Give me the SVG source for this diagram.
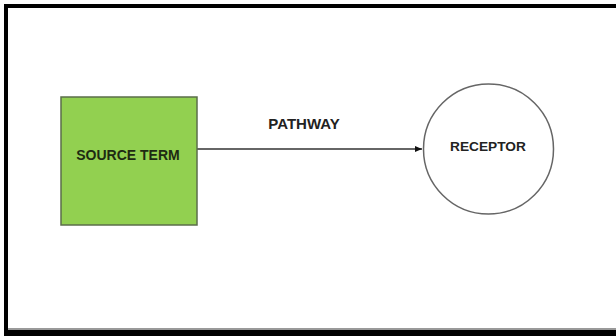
<svg xmlns="http://www.w3.org/2000/svg" width="616" height="336" viewBox="0 0 616 336">
<style>
.lbl{font-family:"Liberation Sans",Arial,sans-serif;font-weight:bold;text-anchor:middle;}
</style>
<defs>
<marker id="arr" markerWidth="8" markerHeight="8" refX="7" refY="4" orient="auto" markerUnits="userSpaceOnUse">
<path d="M0,1 L7,4 L0,7 Z" fill="#111"/>
</marker>
</defs>
<rect x="0" y="0" width="616" height="336" fill="#fff"/>
<g id="frame">
<rect x="4" y="4" width="620" height="4" fill="#000"/>
<rect x="4" y="4" width="4" height="332" fill="#000"/>
<rect x="4" y="330" width="620" height="6" fill="#000"/>
<rect x="8" y="328" width="616" height="2" fill="#999"/>
</g>
<g id="connectors">
<line x1="197" y1="149" x2="422" y2="149" stroke="#333" stroke-width="1.3" marker-end="url(#arr)"/>
<text class="lbl" x="304" y="129" font-size="15" fill="#222">PATHWAY</text>
</g>
<g id="source">
<rect x="61" y="97" width="136" height="128" fill="#92d050" stroke="#5b6e4a" stroke-width="1.5"/>
<text class="lbl" x="128" y="160" font-size="14" fill="#1e2a12">SOURCE TERM</text>
</g>
<g id="receptor">
<circle cx="488.5" cy="149" r="65" fill="#fff" stroke="#666" stroke-width="1.5"/>
<text class="lbl" x="488" y="151" font-size="13.7" fill="#222">RECEPTOR</text>
</g>
</svg>
